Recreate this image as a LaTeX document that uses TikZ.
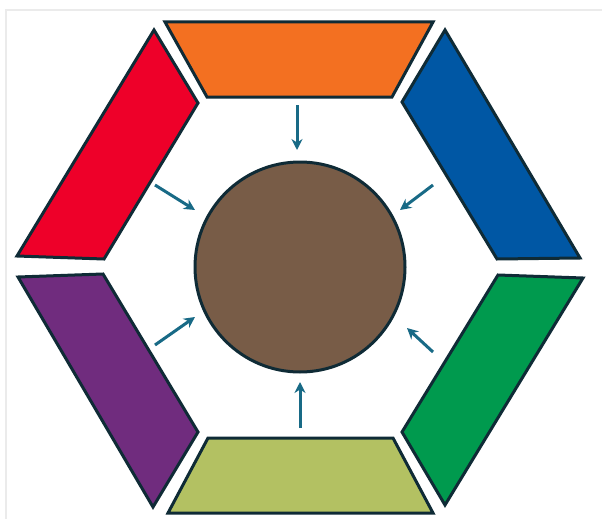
\documentclass[tikz,border=0pt]{standalone}
\usetikzlibrary{arrows.meta}
\definecolor{outl}{HTML}{0F2B36}
\definecolor{cor}{HTML}{F37021}
\definecolor{cred}{HTML}{EE0029}
\definecolor{cblue}{HTML}{0057A4}
\definecolor{cgreen}{HTML}{009A4E}
\definecolor{colive}{HTML}{B3C162}
\definecolor{cpurp}{HTML}{702C7E}
\definecolor{cbrown}{HTML}{785C47}
\definecolor{carr}{HTML}{186A86}
\definecolor{frame}{HTML}{EBEBEB}
\begin{document}
\begin{tikzpicture}[x=1pt,y=-1pt,
  seg/.style={draw=outl,line width=3pt,line join=miter},
  arr/.style={draw=carr,line width=3pt,-{Stealth[length=11pt,width=11pt]}}]
\useasboundingbox (0,0) rectangle (602,519);
\fill[white] (0,0) rectangle (602,519);
\draw[frame,line width=1.6pt] (6,519) -- (6,10) -- (602,10);
% segments
\draw[seg,fill=cor] (165,22) -- (433,22) -- (392,97) -- (207,97) -- cycle;
\draw[seg,fill=cblue] (445,30) -- (580,258) -- (497,259) -- (402,102) -- cycle;
\draw[seg,fill=cgreen] (498,275) -- (583,278) -- (445,505) -- (402,432) -- cycle;
\draw[seg,fill=colive] (208,438) -- (393,438) -- (433,513) -- (168,513) -- cycle;
\draw[seg,fill=cpurp] (18,277) -- (103,274) -- (198,432) -- (153,507) -- cycle;
\draw[seg,fill=cred] (154,30) -- (198,103) -- (104,259) -- (17,256) -- cycle;
% hub
\node[circle,draw=outl,line width=3pt,fill=cbrown,minimum size=210pt,inner sep=0pt] (hub) at (300,267) {};
% arrows
\coordinate (t1) at (297,105);
\coordinate (t2) at (433,185);
\coordinate (t3) at (433,352);
\coordinate (t4) at (300,428);
\coordinate (t5) at (155,345);
\coordinate (t6) at (155,185);
\draw[arr] (t1) -- (297,150);
\draw[arr] (t2) -- (400,210);
\draw[arr] (t3) -- (407,328);
\draw[arr] (t4) -- (300,382);
\draw[arr] (t5) -- (195,317);
\draw[arr] (t6) -- (195,210);
\end{tikzpicture}
\end{document}
